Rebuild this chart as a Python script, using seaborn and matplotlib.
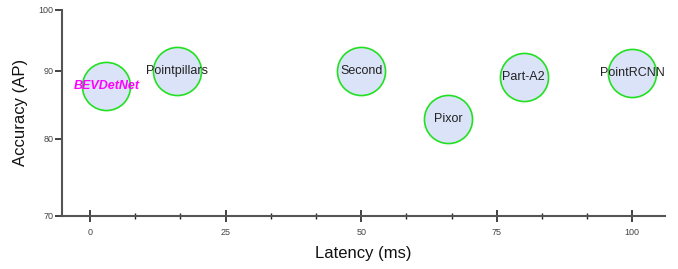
import seaborn as sns
import matplotlib.pyplot as plt
import pandas as pd
from matplotlib.ticker import MultipleLocator, FixedLocator, NullLocator, FixedFormatter

sns.set_style("white")
plt.rcParams['font.family'] = ['Liberation Sans', 'DejaVu Sans']

# Data
models = ['BEVDetNet', 'Pointpillars', 'Second', 'Pixor', 'Part-A2', 'PointRCNN']
latency = [3, 16, 50, 66, 80, 100]
accuracy = [87.6, 90.0, 90.0, 82.8, 89.1, 89.6]
y_ticks = [70, 80, 90, 100]

df = pd.DataFrame({'Model': models, 'Latency (ms)': latency, 'Accuracy (AP)': accuracy})

fig = plt.figure(figsize=(6.78, 2.69), dpi=100)
ax = fig.add_axes([0.0914, 0.198, 0.889, 0.765])

sns.scatterplot(data=df, x='Latency (ms)', y='Accuracy (AP)', ax=ax,
                s=1200, color='#dae3f7', edgecolor='#22e022', linewidth=1.2,
                legend=False, zorder=3)

for name, x, y in zip(models, latency, accuracy):
    if name == 'BEVDetNet':
        ax.text(x, y, name, ha='center', va='center', fontsize=9,
                color='#ff00ff', fontweight='bold', fontstyle='italic', zorder=4)
    else:
        ax.text(x, y, name, ha='center', va='center', fontsize=9,
                color='#222222', zorder=4)

# accuracy axis is log-scaled in the original
ax.set_yscale('log')
ax.set_xlim(-5.2, 106)
ax.set_ylim(70, 100)
ax.xaxis.set_major_locator(MultipleLocator(25))
ax.xaxis.set_minor_locator(MultipleLocator(25 / 3))
ax.yaxis.set_major_locator(FixedLocator(y_ticks))
ax.yaxis.set_major_formatter(FixedFormatter([str(t) for t in y_ticks]))
ax.yaxis.set_minor_locator(NullLocator())

for side in ['top', 'right']:
    ax.spines[side].set_visible(False)
for side in ['left', 'bottom']:
    ax.spines[side].set_color('#555555')
    ax.spines[side].set_linewidth(1.5)

ax.tick_params(axis='x', which='major', direction='inout', length=8, width=1.2,
               color='#222222', labelsize=6.5, labelcolor='#444444', pad=5)
ax.tick_params(axis='x', which='minor', direction='inout', length=4, width=1,
               color='#222222')
ax.tick_params(axis='x', which='both', bottom=True)
ax.tick_params(axis='y', which='major', direction='out', length=5, width=1.2,
               color='#222222', labelsize=6.5, labelcolor='#444444', left=True, pad=1)

ax.set_xlabel('Latency (ms)', fontsize=12, color='#111111', labelpad=6)
ax.set_ylabel('Accuracy (AP)', fontsize=12, color='#111111', labelpad=8)

plt.savefig('out.png', dpi=100)
